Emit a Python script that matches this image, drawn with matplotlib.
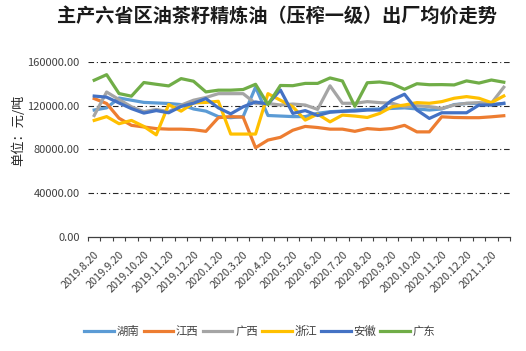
import numpy as np
import matplotlib
matplotlib.use("Agg")
import matplotlib.pyplot as plt

plt.rcParams['font.family'] = ['Noto Sans CJK SC', 'DejaVu Sans']

# --- data ---
dates = ["2019.8.20", "2019.9.5", "2019.9.20", "2019.10.5", "2019.10.20", "2019.11.5",
         "2019.11.20", "2019.12.5", "2019.12.20", "2020.1.5", "2020.1.20", "2020.3.5",
         "2020.3.20", "2020.4.5", "2020.4.20", "2020.5.5", "2020.5.20", "2020.6.5",
         "2020.6.20", "2020.7.5", "2020.7.20", "2020.8.5", "2020.8.20", "2020.9.5",
         "2020.9.20", "2020.10.5", "2020.10.20", "2020.11.5", "2020.11.20", "2020.12.5",
         "2020.12.20", "2021.1.5", "2021.1.20", "2021.2.5"]

hunan = [116000, 118000, 127000, 125000, 123000, 122500, 122000, 121000, 117000, 115000,
         110000, 109000, 110000, 137000, 111000, 110500, 110000, 110000, 113000, 114500,
         115000, 116000, 116500, 117000, 117500, 118000, 117000, 116000, 117000, 121000,
         122000, 122000, 121000, 122000]
jiangxi = [126500, 122000, 108500, 102000, 100500, 99000, 98500, 98500, 98000, 96500,
           109000, 110000, 109500, 81500, 88500, 91000, 97500, 101000, 100000, 98500,
           98500, 96500, 99000, 98200, 99100, 102000, 96000, 96000, 109800, 109200,
           109000, 109000, 109800, 110800]
guangxi = [111000, 132500, 125600, 119000, 114500, 116500, 114500, 120500, 125000, 127500,
           131000, 131000, 131000, 122000, 122000, 120600, 121500, 120600, 116600, 138200,
           122200, 122200, 123700, 122800, 122200, 119000, 120000, 119100, 117500, 120600,
           122200, 122800, 122200, 136900]
zhejiang = [106500, 110000, 103500, 106500, 101000, 93300, 121000, 115000, 122500, 123000,
            124000, 94000, 94000, 94000, 131000, 125000, 119000, 106800, 112300, 105200,
            111400, 110500, 109200, 112900, 119100, 120600, 122800, 122200, 123700, 126800,
            128300, 126800, 122800, 128900]
anhui = [128800, 127800, 122500, 117300, 113200, 115500, 113500, 119300, 122300, 126500,
         118000, 112500, 119000, 123400, 121500, 134400, 112900, 115500, 111000, 114000,
         114800, 115100, 116000, 116000, 125200, 130500, 116000, 108300, 113500, 113500,
         113500, 120600, 120600, 122200]
guangdong = [143300, 148400, 131100, 128700, 141200, 139600, 138100, 144800, 142400, 132600,
             134200, 134200, 134800, 139600, 121000, 138500, 138300, 140400, 140400, 145400,
             142600, 119400, 141000, 141700, 140100, 135000, 140100, 139200, 139300, 139000,
             142700, 140700, 143500, 141500]

series_names = ["湖南", "江西", "广西", "浙江", "安徽", "广东"]
series_values = [hunan, jiangxi, guangxi, zhejiang, anhui, guangdong]
series_colors = ["#5B9BD5", "#ED7D31", "#A5A5A5", "#FFC000", "#4472C4", "#70AD47"]

y_ticks = [0, 40000, 80000, 120000, 160000]

# --- figure ---
fig = plt.figure(figsize=(5.26, 3.51), dpi=100)
fig.patch.set_facecolor('white')
ax = fig.add_axes([88 / 526, 1 - 236.7 / 351, 422 / 526, (236.7 - 62) / 351])

x = np.arange(len(dates))
for name, vals, col in zip(series_names, series_values, series_colors):
    ax.plot(x, vals, color=col, linewidth=2.3, label=name, solid_joinstyle='round')

ax.set_xlim(-0.5, len(dates) - 0.5)
ax.set_ylim(0, 160000)

# gridlines (dash-dot)
for v in y_ticks[1:]:
    ax.axhline(v, color='#262626', linewidth=0.8, dashes=(5, 2.5, 1, 2.5), zorder=0)

ax.set_yticks(y_ticks)
ax.set_yticklabels([f"{v:.2f}" for v in y_ticks], fontsize=8, color='#404040')
ax.tick_params(axis='y', length=0, pad=6)

# tick marks between categories, labels on every other category
ax.set_xticks(np.arange(-0.5, len(dates), 1.0))
ax.set_xticklabels([])
ax.tick_params(axis='x', which='major', direction='out', length=3, width=0.8, color='#404040')
label_pos = x[::2]
ax.set_xticks(label_pos, minor=True)
ax.set_xticklabels([dates[i] for i in label_pos], minor=True, rotation=45,
                   ha='right', va='top', rotation_mode='anchor', fontsize=7.8, color='#404040')
ax.tick_params(axis='x', which='minor', length=0, pad=9)

for side in ['top', 'right', 'left']:
    ax.spines[side].set_visible(False)
ax.spines['bottom'].set_color('#404040')
ax.spines['bottom'].set_linewidth(0.9)

fig.text(277 / 526, 1 - 16 / 351, "主产六省区油茶籽精炼油（压榨一级）出厂均价走势",
         ha='center', va='center', fontsize=13.8, fontweight='bold', color='#1a1a1a')
fig.text(19 / 526, 1 - 130 / 351, "单位：元/吨", rotation=90, ha='center', va='center',
         fontsize=9.5, color='#262626')

fig.legend(loc='center', bbox_to_anchor=(260 / 526, 1 - 331 / 351), ncol=6, frameon=False,
           fontsize=8.2, handlelength=2.6, handletextpad=0.25, columnspacing=0.35,
           labelcolor='#404040')

fig.savefig("out.png", dpi=100, facecolor='white')
